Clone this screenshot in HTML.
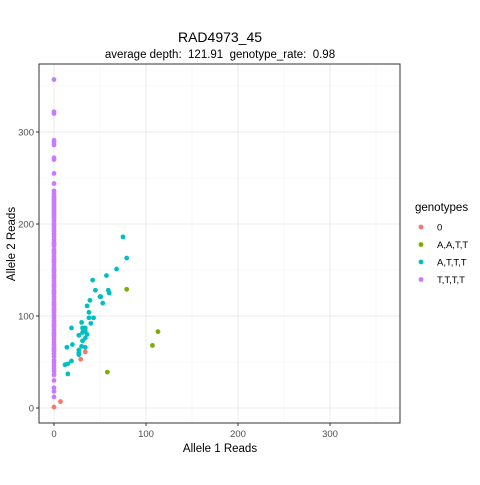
<!DOCTYPE html>
<html><head><meta charset="utf-8"><style>
body{margin:0;background:#fff;font-family:"Liberation Sans",Arial,sans-serif}
svg text{font-family:"Liberation Sans",Arial,sans-serif}
</style></head><body>
<svg id="chart" width="480" height="480" xmlns="http://www.w3.org/2000/svg">
<rect width="480" height="480" fill="#fff"/>
<g id="grid"></g>
<g id="marks"></g>
<rect x="39" y="64" width="361" height="359" fill="none" stroke="#333" stroke-width="1"/>
<g id="axes"></g>
<text x="220" y="42" text-anchor="middle" font-size="14" fill="#000">RAD4973_45</text>
<text x="220" y="58" text-anchor="middle" font-size="11.5" fill="#000" style="white-space:pre">average depth:  121.91  genotype_rate:  0.98</text>
<text x="220" y="452" text-anchor="middle" font-size="11.5" fill="#000">Allele 1 Reads</text>
<text transform="translate(15,244) rotate(-90)" text-anchor="middle" font-size="11.5" fill="#000">Allele 2 Reads</text>
<g id="legend"></g>
</svg>
<script>
const ticks=[0,100,200,300];
const minorTicks=[50,150,250,350];
const groups=["0","A,A,T,T","A,T,T,T","T,T,T,T"];
const colors=["#F8766D","#7CAE00","#00BFC4","#C77CFF"];
const g0x=[0,7,29,34];
const g0y=[1,7,53,61];
const g1x=[79,113,107,58];
const g1y=[129,83,68,39];
const g2x=[75,79,68,57,42,59,60,45,50,51,53,39,36,38,38,43,30,40,19,31,34,32,34,27,31,36,34,31,20,30,34,14,27,27,27,19,12,15,15];
const g2y=[186,163,151,144,139,128,125,128,121,121,114,117,111,104,98,98,93,92,87,87,87,84,84,79,82,80,76,73,69,67,66,66,63,60,58,51,47,48,37];
const g3y=[357,322,320,291,289,286,272,270,255,244,236,233,230,228,226,224,222,220,218,216,214,212,210,208,206,203,200,198,195,192,189,186,183,180,178,176,172,170,168,165,162,160,158,155,152,150,148,145,143,141,138,135,133,131,128,126,124,121,118,115,113,111,108,106,104,101,98,95,92,90,88,85,82,80,78,75,72,69,66,64,62,59,56,52,49,46,43,40,36,30,22,18,12];
const g3x=g3y.map(()=>0);
const NS="http://www.w3.org/2000/svg";
const xs=v=>54+v*0.92, ys=v=>408-v*0.92;
function mk(t,a,p){const e=document.createElementNS(NS,t);for(const k in a)e.setAttribute(k,a[k]);p.appendChild(e);return e;}
const grid=document.getElementById('grid');
minorTicks.forEach(t=>{
 let l=mk('line',{x1:xs(t),x2:xs(t),y1:64,y2:423,stroke:'#f2f2f2','stroke-width':0.6},grid);
 
 
 let m=mk('line',{x1:39,x2:400,y1:ys(t),y2:ys(t),stroke:'#f2f2f2','stroke-width':0.6},grid);
 
 
});
const axes=document.getElementById('axes');
ticks.forEach(t=>{
 let l=mk('line',{x1:xs(t),x2:xs(t),y1:64,y2:423,stroke:'#ebebeb','stroke-width':1},grid);
 
 
 let m=mk('line',{x1:39,x2:400,y1:ys(t),y2:ys(t),stroke:'#ebebeb','stroke-width':1},grid);
 
 
 let a=mk('line',{x1:xs(t),x2:xs(t),y1:423,y2:426,stroke:'#333'},axes);
 
 
 let b=mk('line',{x1:36,x2:39,y1:ys(t),y2:ys(t),stroke:'#333'},axes);
 
 
 let tx=mk('text',{x:xs(t),y:437,'text-anchor':'middle','font-size':9.5,fill:'#4d4d4d'},axes);tx.textContent=t;
 
 
 let ty=mk('text',{x:34,y:ys(t)+3.5,'text-anchor':'end','font-size':9.5,fill:'#4d4d4d'},axes);ty.textContent=t;
 
 
});
const marks=document.getElementById('marks');
const sets=[[g0x,g0y],[g1x,g1y],[g2x,g2y],[g3x,g3y]];
[3,0,1,2].forEach(i=>{
 const [X,Y]=sets[i];
 X.forEach((x,j)=>{
  const c=mk('circle',{cx:xs(x),cy:ys(Y[j]),r:2.4,fill:colors[i]},marks);
  
  
 });
});
const lg=document.getElementById('legend');
let lt=mk('text',{x:415,y:211,'font-size':11.5,fill:'#000'},lg);lt.textContent='genotypes';


groups.forEach((gname,i)=>{
 const y=227+i*17.5;
 const c=mk('circle',{cx:421,cy:y,r:2.4,fill:colors[i]},lg);
 
 
 const t=mk('text',{x:437,y:y+3.5,'font-size':9.5,fill:'#000'},lg);t.textContent=gname;
 
 
});
</script>
</body></html>
